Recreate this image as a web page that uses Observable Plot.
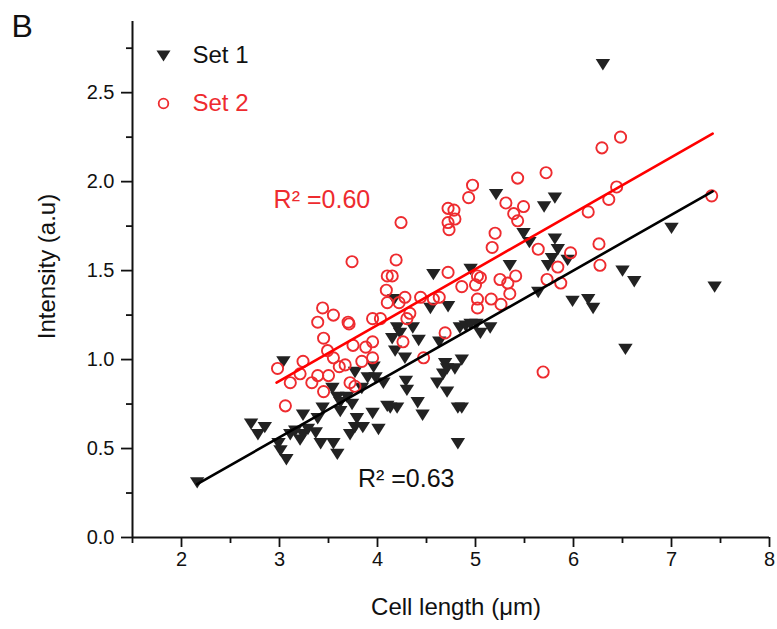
<!DOCTYPE html>
<html><head><meta charset="utf-8">
<script src="https://cdn.jsdelivr.net/npm/d3@7"></script>
<script src="https://cdn.jsdelivr.net/npm/@observablehq/plot@0.6"></script>
<style>
body{margin:0;background:#fff;}
#chart svg{display:block;}
</style>
</head><body><div id="chart"></div>
<script>
// ---- data ----
const set1X = [2.16,3.04,2.71,2.78,2.85,2.99,3.01,3.07,3.11,3.16,
  3.24,3.24,3.21,3.29,3.37,3.42,3.39,3.55,3.59,3.44,
  3.59,3.62,3.69,3.74,3.79,3.72,3.77,3.54,3.62,3.77,
  3.90,3.84,3.85,4.57,4.54,4.72,4.17,4.20,4.23,4.15,
  4.18,4.36,4.42,4.63,4.84,4.90,4.95,5.01,5.05,5.15,
  4.28,4.30,4.29,4.06,4.41,4.46,4.10,4.13,4.20,4.01,
  3.95,4.69,4.71,4.86,4.79,4.67,4.61,4.71,4.82,4.86,
  4.82,5.64,3.96,3.98,5.21,5.70,5.81,5.49,5.55,5.81,
  5.84,5.78,5.74,5.94,5.35,4.95,6.50,6.62,5.99,6.15,
  6.20,6.30,7.00,7.44,6.53];
const set1Y = [0.31,0.99,0.64,0.58,0.62,0.53,0.49,0.44,0.58,0.60,
  0.69,0.58,0.55,0.61,0.59,0.53,0.67,0.53,0.47,0.73,
  0.79,0.76,0.79,0.75,0.67,0.58,0.62,0.84,0.71,0.93,
  0.90,0.84,0.62,1.48,1.29,1.30,1.34,1.18,1.15,1.12,
  1.05,1.18,1.11,1.10,1.18,1.19,1.20,1.20,1.15,1.18,
  1.01,0.83,0.88,0.87,0.76,0.69,0.74,0.73,0.73,0.61,
  0.70,0.98,0.95,1.00,0.95,0.92,0.87,0.82,0.73,0.73,
  0.53,1.38,0.96,0.90,1.93,1.86,1.91,1.71,1.66,1.68,
  1.62,1.57,1.53,1.56,1.53,1.51,1.50,1.44,1.33,1.34,
  1.29,2.66,1.74,1.41,1.06];

const set2X = [3.74,3.44,3.55,3.39,3.70,3.71,3.95,4.03,3.45,3.75,
  3.49,3.95,3.88,3.55,3.24,2.98,3.21,3.11,3.33,3.39,
  3.50,3.61,3.67,3.84,3.95,3.45,3.72,3.77,3.06,4.24,
  5.72,5.43,4.97,4.93,5.31,5.49,5.39,5.43,4.72,4.78,
  4.72,4.79,4.73,5.20,5.17,5.64,5.97,6.26,6.27,6.15,
  6.36,6.44,6.29,6.48,7.41,4.19,4.10,4.15,4.72,5.02,
  5.05,5.00,4.86,5.25,5.41,5.33,5.35,5.84,5.73,5.87,
  4.09,4.10,4.22,4.28,4.44,4.57,4.63,5.02,5.02,5.16,
  5.26,4.33,4.30,4.69,4.26,4.47,5.69];
const set2Y = [1.55,1.29,1.25,1.21,1.21,1.20,1.23,1.23,1.12,1.08,
  1.05,1.10,1.07,1.01,0.99,0.95,0.92,0.87,0.87,0.91,
  0.91,0.96,0.97,0.99,1.01,0.82,0.87,0.85,0.74,1.77,
  2.05,2.02,1.98,1.91,1.88,1.86,1.82,1.78,1.85,1.84,
  1.77,1.79,1.73,1.71,1.63,1.62,1.60,1.65,1.53,1.83,
  1.90,1.97,2.19,2.25,1.92,1.56,1.47,1.47,1.49,1.47,
  1.46,1.42,1.41,1.45,1.47,1.43,1.37,1.52,1.45,1.43,
  1.39,1.32,1.32,1.35,1.35,1.34,1.35,1.34,1.29,1.34,
  1.31,1.26,1.23,1.15,1.10,1.01,0.93];

// linear fit lines (end points as drawn in the reference)
const fit1X = [2.16, 7.42];
const fit1Y = [0.30, 1.945];
const fit2X = [2.97, 7.42];
const fit2Y = [0.87, 2.27];

const xMajor = [2, 3, 4, 5, 6, 7, 8];
const xMinor = [1.5, 2.5, 3.5, 4.5, 5.5, 6.5, 7.5];
const yMajor = [0, 0.5, 1.0, 1.5, 2.0, 2.5];
const yMinor = [0.25, 0.75, 1.25, 1.75, 2.25, 2.75];

const seriesNames = ["Set 1", "Set 2"];
const r2Labels = ["R² =0.63", "R² =0.60"];
const panelLabel = "B";
const xLabel = "Cell length (μm)";
const yLabel = "Intensity (a.u)";

// ---- build tables ----
const set1 = set1X.map((x, i) => ({x, y: set1Y[i]}));
const set2 = set2X.map((x, i) => ({x, y: set2Y[i]}));
const fit1 = fit1X.map((x, i) => ({x, y: fit1Y[i]}));
const fit2 = fit2X.map((x, i) => ({x, y: fit2Y[i]}));

const BLACK = "#222222";
const RED = "#ee2b2f";
const LINE_RED = "#ff0000";
const FONT = "'Liberation Sans', Arial, Helvetica, sans-serif";

// downward-pointing triangle symbol
const triangleDown = {
  draw(context, size) {
    const r = Math.sqrt(size / Math.PI);
    context.moveTo(-r, -0.72 * r);
    context.lineTo(r, -0.72 * r);
    context.lineTo(0, 0.86 * r);
    context.closePath();
  }
};

const chart = Plot.plot({
  width: 777,
  height: 629,
  marginLeft: 132,
  marginRight: 8,
  marginTop: 21,
  marginBottom: 92,
  style: {fontFamily: FONT, fontSize: "20px", color: "#111", background: "#fff", overflow: "visible"},
  x: {domain: [1.5, 8]},
  y: {domain: [0, 2.9]},
  marks: [
    // axes
    Plot.axisX(xMajor, {tickSize: 10, tickPadding: 4, tickFormat: d3.format("d"), strokeWidth: 1.8, fontSize: 20, label: null}),
    Plot.axisX(xMinor, {tickSize: 6, fill: "none", strokeWidth: 1.8, label: null}),
    Plot.axisY(yMajor, {tickSize: 11, tickPadding: 7, tickFormat: d3.format(".1f"), strokeWidth: 1.8, fontSize: 20, label: null}),
    Plot.axisY(yMinor, {tickSize: 6, fill: "none", strokeWidth: 1.8, label: null}),
    Plot.ruleY([0], {stroke: "#111", strokeWidth: 2}),
    Plot.ruleX([1.5], {stroke: "#111", strokeWidth: 2}),

    // data
    Plot.dot(set1, {x: "x", y: "y", symbol: triangleDown, r: 7.2, fill: BLACK, stroke: "none"}),
    Plot.dot(set2, {x: "x", y: "y", symbol: "circle", r: 5.6, fill: "none", stroke: RED, strokeWidth: 1.9}),
    Plot.line(fit1, {x: "x", y: "y", stroke: "#000", strokeWidth: 2.6}),
    Plot.line(fit2, {x: "x", y: "y", stroke: LINE_RED, strokeWidth: 2.6}),

    // R² annotations
    Plot.text([r2Labels[1]], {x: 2.94, y: 1.895, text: d => d, textAnchor: "start", lineAnchor: "middle", fill: RED, fontSize: 25}),
    Plot.text([r2Labels[0]], {x: 3.80, y: 0.33, text: d => d, textAnchor: "start", lineAnchor: "middle", fill: "#111", fontSize: 25}),

    // legend
    Plot.dot([seriesNames[0]], {frameAnchor: "top-left", dx: 31, dy: 34, symbol: triangleDown, r: 7, fill: BLACK}),
    Plot.text([seriesNames[0]], {frameAnchor: "top-left", dx: 60, dy: 34, text: d => d, textAnchor: "start", lineAnchor: "middle", fill: "#111", fontSize: 24}),
    Plot.dot([seriesNames[1]], {frameAnchor: "top-left", dx: 31, dy: 82, symbol: "circle", r: 4.8, fill: "none", stroke: RED, strokeWidth: 1.8}),
    Plot.text([seriesNames[1]], {frameAnchor: "top-left", dx: 60, dy: 82, text: d => d, textAnchor: "start", lineAnchor: "middle", fill: RED, fontSize: 24}),

    // panel letter and axis titles
    Plot.text([panelLabel], {frameAnchor: "top-left", dx: -121, dy: 5, text: d => d, textAnchor: "start", lineAnchor: "middle", fill: "#111", fontSize: 32}),
    Plot.text([xLabel], {frameAnchor: "bottom", dx: 5, dy: 70, text: d => d, textAnchor: "middle", lineAnchor: "middle", fill: "#111", fontSize: 24}),
    Plot.text([yLabel], {frameAnchor: "left", dx: -85, dy: -13, rotate: -90, text: d => d, textAnchor: "middle", lineAnchor: "middle", fill: "#111", fontSize: 24})
  ]
});

document.getElementById("chart").appendChild(chart);
</script>
</body></html>
